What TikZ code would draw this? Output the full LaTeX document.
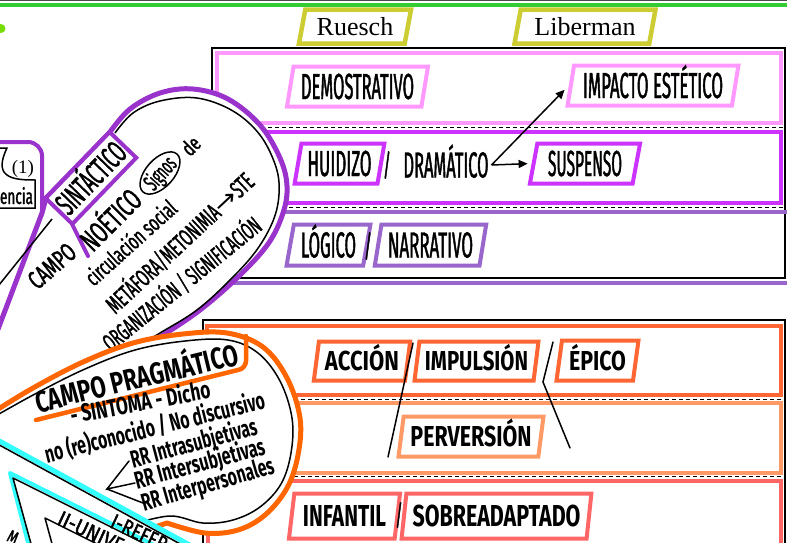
\documentclass[tikz,border=0pt]{standalone}
\usepackage{graphicx}
\usepackage{fontspec}
\usetikzlibrary{shapes.geometric,arrows.meta}
\newfontfamily\condf{Fira Sans}[FakeStretch=0.5]
\newfontfamily\condm{Fira Sans}[FakeStretch=0.5,FakeBold=1.2]
\newfontfamily\handf{Fira Sans}[FakeStretch=0.78]
\newfontfamily\serf{Liberation Serif}
\newfontfamily\dejavu{DejaVu Sans}
\newcommand\fitt[3]{\resizebox{#1pt}{#2pt}{\smash{#3}\vphantom{X}}}
\definecolor{ruesc}{HTML}{CCCC33}
\definecolor{pinkc}{HTML}{FF99FF}
\definecolor{magc}{HTML}{CC33FF}
\definecolor{lavc}{HTML}{9966CC}
\definecolor{purpc}{HTML}{9933CC}
\definecolor{orac}{HTML}{FF6633}
\definecolor{lorc}{HTML}{FF9966}
\definecolor{salc}{HTML}{FF6666}
\definecolor{obub}{HTML}{FF6600}
\definecolor{cyanc}{HTML}{33FFFF}
\definecolor{greenc}{HTML}{33CC33}
\definecolor{limec}{HTML}{77DD00}
\begin{document}
\begin{tikzpicture}[x=1pt,y=-1pt,
  pbox/.style={trapezium, trapezium left angle=77, trapezium right angle=103,
    trapezium stretches=true, draw, line width=4pt, fill=white, inner sep=0pt},
  txt/.style={inner sep=0pt, outer sep=0pt},
  band/.style={line width=4pt},
  frame/.style={line width=1.8pt, draw=black},
  dsh/.style={line width=1pt, dash pattern=on 4pt off 3pt},
  link/.style={line width=1.5pt, -{Triangle[length=9pt,width=8pt]}},
  thinl/.style={line width=1.5pt, line cap=round},
  ]
\useasboundingbox (0,0) rectangle (787,542);
\fill[white] (0,0) rectangle (787,542);
% top lines
\draw[line width=1pt, black!70] (0,0.8) -- (787,0.8);
\draw[line width=4pt, greenc] (0,5) -- (787,5);
\fill[limec] (1,28.5) circle (4.5);
% authors
\node[pbox, draw=ruesc, line width=4.5pt, trapezium left angle=75, trapezium right angle=105,
  minimum width=113, minimum height=34] (ruesch) at (355,26.5) {\serf\fontsize{26}{26}\selectfont Ruesch};
\node[pbox, draw=ruesc, line width=4.5pt, trapezium left angle=75, trapezium right angle=105,
  minimum width=141, minimum height=34] (liber) at (585,26.5) {\serf\fontsize{26}{26}\selectfont Liberman};
% upper panel
\draw[frame] (212,48) rectangle (785,278);
\draw[band, pinkc] (217,53) rectangle (781,123);
\draw[band, magc] (217,132) rectangle (781,203);
\draw[band, lavc] (217,212) rectangle (805,283);
\draw[dsh] (212,127.5) -- (785,127.5);
\draw[dsh] (212,207.5) -- (785,207.5);
\node[pbox, draw=pinkc, minimum width=141, minimum height=40] (demo) at (357.5,86.5) {\condm\fitt{113}{25}{DEMOSTRATIVO}};
\node[pbox, draw=pinkc, minimum width=171, minimum height=40] (impacto) at (653,85.5) {\condm\fitt{140}{25}{IMPACTO ESTÉTICO}};
\node[pbox, draw=magc, minimum width=90, minimum height=40] (huid) at (339.5,163.5) {\condm\fitt{64}{25}{HUIDIZO}};
\node[txt] (sl1) at (387,165) {\condm\fontsize{30}{30}\selectfont /};
\node[txt, inner xsep=3pt] (dram) at (446,165) {\condm\fitt{85}{25}{DRAMÁTICO}};
\node[pbox, draw=magc, minimum width=111, minimum height=40] (susp) at (585,163.5) {\condm\fitt{74}{25}{SUSPENSO}};
\node[pbox, draw=lavc, minimum width=84, minimum height=41] (logico) at (328.5,245) {\condm\fitt{55}{25}{LÓGICO}};
\node[txt] (sl2) at (368,246) {\condm\fontsize{30}{30}\selectfont /};
\node[pbox, draw=lavc, minimum width=112, minimum height=41] (narr) at (430.5,245) {\condm\fitt{85}{25}{NARRATIVO}};
\draw[link, shorten >=4pt] (dram.east) -- (susp.west);
\draw[link, shorten >=6pt] (dram.east) -- (impacto.west);
% lower panel
\draw[frame] (203,320) rectangle (785,570);
\draw[band, orac] (207,326) rectangle (781,395);
\draw[band, lorc] (207,403) rectangle (781,473);
\draw[band, salc] (208,481) rectangle (781,570);
\draw[dsh] (203,399) -- (785,399);
\draw[dsh] (203,476.5) -- (785,476.5);
\node[pbox, draw=orac, minimum width=97, minimum height=39] (accion) at (362,361) {\handf\bfseries\fitt{74}{19}{ACCIÓN}};
\node[pbox, draw=orac, minimum width=124, minimum height=39] (impul) at (476.5,361) {\handf\bfseries\fitt{103}{19}{IMPULSIÓN}};
\node[pbox, draw=orac, minimum width=82, minimum height=40] (epico) at (597.5,360.5) {\handf\bfseries\fitt{57}{19}{ÉPICO}};
\node[pbox, draw=lorc, minimum width=145, minimum height=40] (perv) at (471,436.5) {\handf\bfseries\fitt{121}{20}{PERVERSIÓN}};
\node[pbox, draw=salc, trapezium left angle=78, trapezium right angle=102, minimum width=112, minimum height=45] (infan) at (344.5,516) {\handf\bfseries\fitt{83}{21}{INFANTIL}};
\node[txt] (sl3) at (399,515) {\condm\fontsize{28}{28}\selectfont /};
\node[pbox, draw=salc, trapezium left angle=78, trapezium right angle=102, minimum width=190, minimum height=45] (sobre) at (496.5,516) {\handf\bfseries\fitt{168}{21}{SOBREADAPTADO}};
\coordinate (l1a) at (413,343); \coordinate (l1b) at (388,457);
\draw[thinl] (l1a) -- (l1b);
\coordinate (l2a) at (553,342); \coordinate (l2b) at (543,382); \coordinate (l2c) at (570,448);
\draw[thinl] (l2a) -- (l2b) -- (l2c);
% (1) box
\draw[purpc, line width=4pt, rounded corners=14pt] (-10,142) -- (42,142) -- (42,232);
\draw[line width=1.5pt] (-3,148) -- (7,148) .. controls (3,156) and (0,166) .. (4,172) .. controls (9,179) and (20,180) .. (35,180) -- (35,208) -- (-5,208);
\node[txt] (one) at (23,169) {\serf\fontsize{19}{19}\selectfont (1)};
\node[txt, anchor=south east] (encia) at (33,204) {\condm\fitt{33}{15}{encia}};
% syntactic bubble
\filldraw[draw=purpc, line width=5pt, fill=white, line join=round] (-8,345) -- (42,213) -- (46,198) -- (110,132)
  -- plot[smooth, tension=0.6] coordinates {(110,132) (130,109) (160,93) (193,89) (228,99) (260,125) (280,158) (287,186) (283,213) (268,244) (238,277) (200,310) (160,337) (137,350)}
  -- (60,400) -- (-10,420) -- cycle;
\draw[line width=1.5pt] plot[smooth, tension=0.6] coordinates {(115,133) (133,113) (160,101) (197,98) (233,111) (260,135) (276,167) (279,194) (273,221) (256,251) (230,280) (197,310) (160,333) (140,345)};
\draw[line width=1.5pt] (52,219) -- (-5,290);
\draw[purpc, line width=4pt, line cap=round] (71,222) -- (88,256);
\node[draw=purpc, line width=4pt, fill=white, rotate=46, minimum width=92, minimum height=37, inner sep=0pt] (sint) at (91,178) {\condm\fitt{86}{22}{SINTÁCTICO}};
\node[txt, rotate=45] (noet) at (111,220) {\condm\fitt{72}{21}{NOÉTICO}};
\node[txt, rotate=41] (campo1) at (52,266) {\condm\fitt{54}{18}{CAMPO}};
\node[txt, rotate=44] (dash1) at (139,201) {\condm\fontsize{16}{16}\selectfont -};
\node[draw, ellipse, line width=1.5pt, rotate=48, minimum width=50, minimum height=28, inner sep=0pt, fill=white] (signos) at (160,173) {\condm\fitt{36}{16}{Signos}};
\node[txt, rotate=45] (de) at (191,146) {\condm\fitt{17}{15}{de}};
\node[txt, rotate=42] (circ) at (131,243) {\condm\fitt{114}{16}{circulación social}};
\node[txt, rotate=43] (meta) at (180,243) {\condm\fitt{192}{17}{METÁFORA/METONIMIA{\dejavu→}STE}};
\node[txt, rotate=39] (org) at (182,284) {\condm\fitt{196}{17}{ORGANIZACIÓN / SIGNIFICACIÓN}};
% pragmatic bubble
\filldraw[draw=obub, line width=5pt, fill=white, line join=round] plot[smooth, tension=0.6] coordinates {(-8,413) (33,388) (83,362) (133,343) (183,334) (227,333) (263,347) (287,378) (300,418) (298,455) (287,488) (265,515) (238,530) (205,533) (167,523)} -- (140,532) -- (0,462) -- cycle;
\draw[line width=1.5pt] plot[smooth, tension=0.6] coordinates {(-8,418) (35,394) (85,369) (135,350) (185,341) (228,340) (258,353) (280,381) (292,418) (291,453) (281,484) (260,507) (233,520) (203,523) (170,516) (130,525)};
\draw[obub, line width=4.5pt, line cap=round, rounded corners=7pt] (36,420) -- (246,368) -- (246,336);
\node[txt, anchor=south west, rotate=13.5] (cpr) at (38,413) {\handf\bfseries\fitt{208}{21}{CAMPO PRAGMÁTICO}};
\node[txt, anchor=south west, rotate=10.5] (sint2) at (72,424) {\handf\bfseries\fitt{142}{17}{- SINTOMA - Dicho}};
\node[txt, anchor=south west, rotate=14] (nore) at (47,463) {\handf\bfseries\fitt{226}{17}{no (re)conocido / No discursivo}};
\node[txt, anchor=south west, rotate=15] (rr1) at (133,468) {\handf\bfseries\fitt{130}{17}{RR Intrasubjetivas}};
\node[txt, anchor=south west, rotate=15] (rr2) at (137,489) {\handf\bfseries\fitt{134}{17}{RR Intersubjetivas}};
\node[txt, anchor=south west, rotate=16] (rr3) at (144,511) {\handf\bfseries\fitt{137}{17}{RR Interpersonales}};
\coordinate (brk) at (107,489);
\coordinate (b1) at (129,461); \coordinate (b2) at (135,483); \coordinate (b3) at (143,503);
\draw[thinl] (b1) -- (brk) -- (b2);
\draw[thinl] (brk) -- (b3);
% referential petal
\fill[white] (-8,437) -- (220,561.6) -- (-8,562) -- cycle;
\draw[cyanc, line width=5pt] (-8,437) -- (220,561.6);
\draw[line width=1.5pt] (-8,441) -- (215,563);
\draw[cyanc, line width=4pt, line join=round] (33,562) -- (10,473) -- (188,562);
\draw[line width=1.5pt, line join=round] (36,562) -- (13,478) -- (181,562);
\draw[line width=1.5pt, line join=round] (57,562) -- (45,518) -- (133,562);
\node[txt, anchor=south west, rotate=-25] (iref) at (109,527) {\condm\fitt{60}{15}{I-REFER}};
\node[txt, anchor=south west, rotate=-25] (iiuni) at (56,524) {\condm\fitt{70}{15}{II-UNIVE}};
\node[txt, rotate=-25] (mm) at (13,537) {\condm\fitt{10}{12}{M}};
\end{tikzpicture}
\end{document}
